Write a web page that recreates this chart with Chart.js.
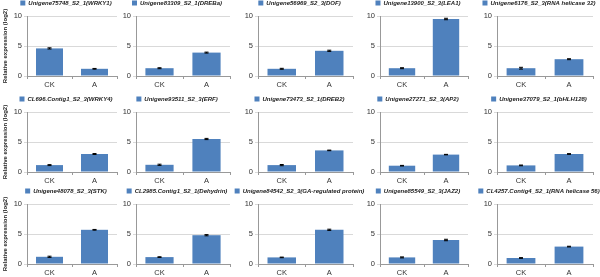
<!DOCTYPE html>
<html>
<head>
<meta charset="utf-8">
<script src="https://cdn.jsdelivr.net/npm/chart.js@4.4.0/dist/chart.umd.min.js"></script>
<style>
  html, body { margin: 0; padding: 0; background: #fff; overflow: hidden; }
  body { width: 600px; height: 277px; position: relative; }
  .panel { position: absolute; }
</style>
</head>
<body>
<div id="wrap"></div>
<script>
  var categories = ['CK', 'A'];

  var geneNames = [
    'Unigene75748_S2_1(WRKY1)', 'Unigene83309_S2_1(DREBa)', 'Unigene56969_S2_3(DOF)',
    'Unigene13900_S2_3(LEA1)', 'Unigene6176_S2_3(RNA helicase 32)',
    'CL696.Contig1_S2_3(WRKY4)', 'Unigene93511_S2_3(ERF)', 'Unigene73473_S2_1(DREB2)',
    'Unigene27271_S2_3(AP2)', 'Unigene37079_S2_1(bHLH128)',
    'Unigene48078_S2_3(STK)', 'CL2985.Contig1_S2_1(Dehydrin)', 'Unigene84542_S2_3(GA-regulated protein)',
    'Unigene85549_S2_3(JAZ2)', 'CL4257.Contig4_S2_1(RNA helicase 56)'
  ];

  var ckValues = [4.6, 1.3, 1.2, 1.3, 1.3, 1.15, 1.2, 1.15, 1.05, 1.1, 1.2, 1.15, 1.1, 1.1, 1.0];
  var aValues  = [1.2, 3.9, 4.2, 9.5, 2.8, 3.0, 5.5, 3.6, 2.9, 3.0, 5.7, 4.8, 5.7, 4.0, 2.9];
  var ckErrors = [0.1, 0.08, 0.08, 0.08, 0.15, 0.08, 0.1, 0.1, 0.05, 0.06, 0.1, 0.06, 0.05, 0.08, 0.06];
  var aErrors  = [0.06, 0.08, 0.1, 0.12, 0.08, 0.08, 0.1, 0.05, 0.04, 0.06, 0.06, 0.1, 0.1, 0.12, 0.06];

  var yTicks = [0, 5, 10];
  var yTitle = 'Relative expression (log2)';

  // layout of the 3x5 grid (plot area left/right, canvas top)
  var colAxis = [27, 136, 258, 380, 497];
  var colRight = [117, 230, 353, 468, 593];
  var rowTop = [-2, 94, 186];
  var panelH = 92;
  var margin = 16;  // extra room so long legend labels are not clipped

  var barColor = '#4F81BD';
  var font = '"Liberation Sans", Arial, sans-serif';

  // small plugin for the error bars
  var errorBars = {
    id: 'errorBars',
    afterDatasetsDraw: function(chart, args, opts) {
      var ctx = chart.ctx;
      var yScale = chart.scales.y;
      var meta = chart.getDatasetMeta(0);
      ctx.save();
      ctx.strokeStyle = '#000';
      ctx.lineWidth = 1;
      meta.data.forEach(function(bar, j) {
        var v = chart.data.datasets[0].data[j];
        var e = opts.errors[j];
        var yTop = yScale.getPixelForValue(v + e);
        var yBot = yScale.getPixelForValue(v - e);
        ctx.beginPath();
        ctx.moveTo(bar.x, yTop); ctx.lineTo(bar.x, yBot);
        ctx.moveTo(bar.x - 2, yTop); ctx.lineTo(bar.x + 2, yTop);
        ctx.moveTo(bar.x - 2, yBot); ctx.lineTo(bar.x + 2, yBot);
        ctx.stroke();
      });
      ctx.restore();
    }
  };

  var wrap = document.getElementById('wrap');

  geneNames.forEach(function(name, i) {
    var row = Math.floor(i / 5), col = i % 5;
    var yw = col === 0 ? 27 : 24;
    var left = yw + margin;        // width of the y axis box
    var right = yw + margin - 12;  // invisible right axis, keeps legend roughly centred
    var plotW = colRight[col] - colAxis[col];
    var div = document.createElement('div');
    div.className = 'panel';
    div.style.left = (colAxis[col] - left) + 'px';
    div.style.top = rowTop[row] + 'px';
    div.style.width = (plotW + left + right) + 'px';
    div.style.height = panelH + 'px';
    var cv = document.createElement('canvas');
    div.appendChild(cv);
    wrap.appendChild(div);

    new Chart(cv.getContext('2d'), {
      type: 'bar',
      data: {
        labels: categories,
        datasets: [{
          label: name,
          data: [ckValues[i], aValues[i]],
          backgroundColor: barColor,
          borderWidth: 0,
          categoryPercentage: 1,
          barPercentage: 0.6
        }]
      },
      options: {
        responsive: true,
        maintainAspectRatio: false,
        animation: false,
        layout: { padding: 0 },
        plugins: {
          legend: {
            display: true,
            position: 'top',
            labels: {
              boxWidth: 5, boxHeight: 5, padding: 2,
              color: '#222',
              font: { family: font, size: 6, weight: 'bold', style: 'italic' }
            }
          },
          tooltip: { enabled: false },
          errorBars: { errors: [ckErrors[i], aErrors[i]] }
        },
        scales: {
          x: {
            grid: { display: true, offset: true, drawOnChartArea: false, drawTicks: true, tickLength: 3, color: '#999' },
            border: { color: '#999' },
            ticks: { color: '#333', font: { family: font, size: 7.5 }, padding: 1 }
          },
          y: {
            min: 0, max: 10,
            afterBuildTicks: function(scale) { scale.ticks = yTicks.map(function(v) { return { value: v }; }); },
            afterFit: function(scale) { scale.width = left; },
            grid: { color: '#d9d9d9', drawTicks: true, tickLength: 3 },
            border: { color: '#999' },
            ticks: { color: '#333', font: { family: font, size: 7.5 }, padding: 2 },
            title: {
              display: col === 0,
              text: yTitle,
              color: '#222',
              font: { family: font, size: 6, weight: 'bold' },
              padding: { top: margin + 2, bottom: 0 }
            }
          },
          spacer: {
            type: 'linear',
            position: 'right',
            display: true,
            min: 0, max: 10,
            afterFit: function(scale) { scale.width = right; },
            grid: { display: false },
            border: { display: false },
            ticks: { display: false }
          }
        }
      },
      plugins: [errorBars]
    });
  });
</script>
</body>
</html>
